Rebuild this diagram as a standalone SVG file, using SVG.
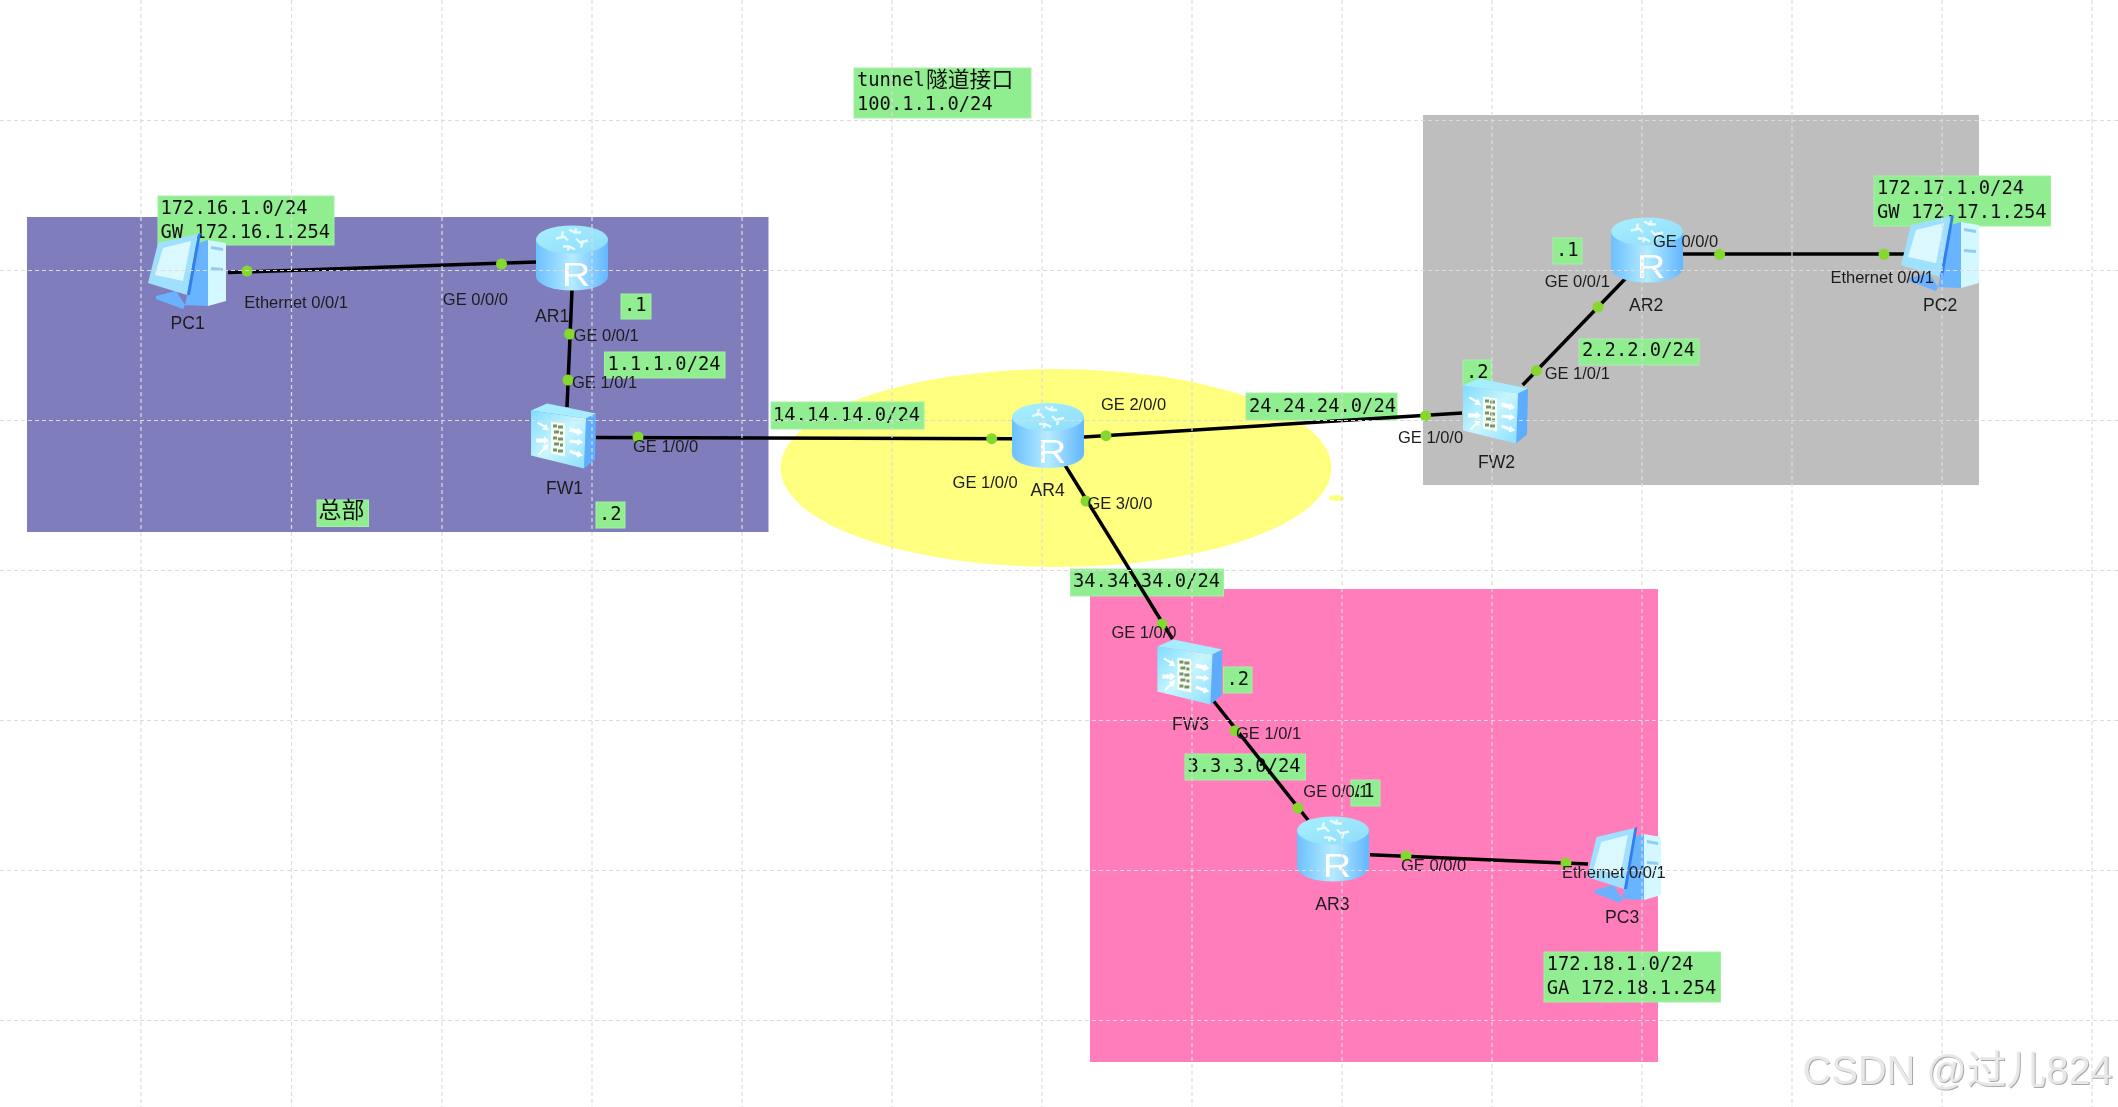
<svg xmlns="http://www.w3.org/2000/svg" xmlns:xlink="http://www.w3.org/1999/xlink" width="2118" height="1107" viewBox="0 0 2118 1107">
<style>
.lb{fill:#90ee90;stroke:#a6f0a6;stroke-width:1}
.m{font-family:"DejaVu Sans Mono","Liberation Mono",monospace;font-size:18.8px;fill:#111}
.cjk{font-family:"Noto Sans CJK SC",sans-serif;fill:#111}
.p{font-family:"Liberation Sans",Arial,sans-serif;font-size:16.5px;fill:#1c1c1c}
.n{font-family:"Liberation Sans",Arial,sans-serif;font-size:17.6px;fill:#1c1c1c}
.link{stroke:#000;stroke-width:3.5;fill:none;stroke-linecap:butt}
.dot{fill:#84d82f}
.grid{stroke:#dcdcdc;stroke-width:1.2;stroke-dasharray:4 3;fill:none}
.wm{font-family:"Liberation Sans","Noto Sans CJK SC",sans-serif;font-size:39.8px;fill:#e8e8e8;filter:url(#sh)}
.ra{fill:none;stroke:#e8fcff;stroke-width:2.4}
</style>
<defs>
<filter id="soft" x="-2%" y="-2%" width="104%" height="104%"><feGaussianBlur stdDeviation="0.45"/></filter>
<filter id="sh" x="-5%" y="-20%" width="110%" height="140%"><feDropShadow dx="1" dy="1" stdDeviation="0.6" flood-color="#a8a8a8"/></filter>
<linearGradient id="rb" x1="0" x2="1" y1="0" y2="0"><stop offset="0" stop-color="#6cc0ff"/><stop offset=".5" stop-color="#b4ecff"/><stop offset="1" stop-color="#63b6ff"/></linearGradient>
<linearGradient id="rt" x1="0" x2="1" y1="0" y2="1"><stop offset="0" stop-color="#a8f0ff"/><stop offset="1" stop-color="#8fdcfb"/></linearGradient>
<linearGradient id="ff" x1="0" x2="1" y1="0" y2="1"><stop offset="0" stop-color="#7fdcff"/><stop offset=".5" stop-color="#c8f6ff"/><stop offset="1" stop-color="#8adfff"/></linearGradient>
<g id="router">
<path d="M0 14V51A36 14 0 0 0 72 51V14Z" fill="url(#rb)"/>
<ellipse cx="36" cy="14" rx="36" ry="14" fill="url(#rt)"/>
<path class="ra" d="M20 13l8-2 4 4M27 6l-2 7M52 15l-8 2-4-4M45 22l2-7M33 4l6 3 6 0M40 3l-1 5M39 24l-6-3-6 0M32 25l1-5"/>
<text transform="translate(40 60) scale(1.2 1)" text-anchor="middle" font-family="Liberation Sans,Arial,sans-serif" font-size="33" fill="#fff">R</text>
</g>
<g id="firewall">
<path d="M1 7L17 0L66 10L56 15Z" fill="#a6eeff"/>
<path d="M56 15L66 10L65 56L54 65Z" fill="#5dadff"/>
<path d="M1 7L56 15L54 65L1 52Z" fill="url(#ff)"/>
<path d="M21 18L35 20L35 53L21 50Z" fill="#f4fff4"/>
<path d="M23 21h4v3h-4ZM28 22h5v3h-5ZM24 27h5v3h-5ZM30 28h3v3h-3ZM23 33h4v3h-4ZM28 34h5v3h-5ZM24 39h5v3h-5ZM30 40h3v3h-3ZM23 45h4v3h-4ZM28 46h5v3h-5Z" fill="#7f8f6a"/>
<path d="M8 18l7 4 1-2 3 7-7-1 2-2-7-4ZM6 35h8v-2l5 4-5 4v-2H6ZM8 50l6-6-2-1 7-3-2 7-2-1-6 6ZM40 24l8 2v-2l5 5-6 3v-2l-8-2ZM40 36l8 1v-2l5 4-6 3v-2l-8-1ZM40 46l8 3v-2l5 5-6 2v-2l-8-3Z" fill="#fff"/>
</g>
<g id="pc">
<path d="M37 72L50 10L60 7V73Z" fill="#69b4ff"/>
<path d="M60 7L78 10L78 68L60 73Z" fill="#d4f8ff"/>
<path d="M63 13l12 2v3l-12-2ZM63 34l12 1v3l-12-1Z" fill="#8fcdf5"/>
<path d="M8 63L28 58L37 72L35 76L8 66Z" fill="#6ab2ff"/>
<path d="M10 10L50 1L39 62L0 50Z" fill="#9fe0ff"/>
<path d="M50 1L53 0L42 62L39 62Z" fill="#2f7ff0"/>
<path d="M15 15L43 8L35 48L7 42Z" fill="#dcf8ff"/>
</g>
</defs>
<rect width="2118" height="1107" fill="#fff"/>
<g filter="url(#soft)">
<g id="areas">
<rect x="27" y="217" width="741.5" height="315" fill="#807dbd"/>
<rect x="1423" y="115" width="556" height="370" fill="#bebebe"/>
<rect x="1090" y="589" width="568" height="473" fill="#ff7dbb"/>
<ellipse cx="1056" cy="468" rx="275.5" ry="99" fill="#ffff7f"/>
<ellipse cx="1336.5" cy="498" rx="8" ry="3" fill="#ffff7f"/>
</g>
<g id="labels">
<rect class="lb" x="854" y="68" width="177" height="50"/>
<text class="m" x="857" y="86">tunnel</text><text class="cjk" x="926" y="87" font-size="21.8">隧道接口</text>
<text class="m" x="857" y="110">100.1.1.0/24</text>
<rect class="lb" x="158" y="196" width="176" height="49"/>
<text class="m" x="160.5" y="213.5">172.16.1.0/24</text><text class="m" x="160.5" y="237.5">GW 172.16.1.254</text>
<rect class="lb" x="621" y="294" width="30" height="25"/><text class="m" x="624" y="311">.1</text>
<rect class="lb" x="604.5" y="352" width="120.5" height="26"/><text class="m" x="607.5" y="369.5">1.1.1.0/24</text>
<rect class="lb" x="596" y="502" width="29" height="26"/><text class="m" x="599" y="519.5">.2</text>
<rect class="lb" x="317" y="500" width="51.5" height="26.5"/><text class="cjk" x="318.5" y="517.5" font-size="23">总部</text>
<rect class="lb" x="771" y="402" width="153" height="27"/><text class="m" x="773" y="420.5">14.14.14.0/24</text>
<rect class="lb" x="1246" y="393" width="151" height="27"/><text class="m" x="1249" y="411.5">24.24.24.0/24</text>
<rect class="lb" x="1070.5" y="569" width="153" height="27"/><text class="m" x="1073" y="587">34.34.34.0/24</text>
<rect class="lb" x="1579" y="339" width="120" height="26"/><text class="m" x="1582" y="356">2.2.2.0/24</text>
<rect class="lb" x="1553" y="238" width="29" height="26"/><text class="m" x="1556" y="255.5">.1</text>
<rect class="lb" x="1463" y="360" width="28.5" height="26"/><text class="m" x="1466" y="377.5">.2</text>
<rect class="lb" x="1874" y="176" width="176.5" height="50"/>
<text class="m" x="1877" y="193.5">172.17.1.0/24</text><text class="m" x="1877" y="217.5">GW 172.17.1.254</text>
<rect class="lb" x="1223.5" y="667" width="28.5" height="26"/><text class="m" x="1226.5" y="684.5">.2</text>
<rect class="lb" x="1185" y="754" width="120.5" height="26"/><text class="m" x="1187.5" y="771.5">3.3.3.0/24</text>
<rect class="lb" x="1351" y="780" width="29" height="26"/><text class="m" x="1352" y="797">.1</text>
<rect class="lb" x="1544" y="952" width="176.5" height="50"/>
<text class="m" x="1546.7" y="969.5">172.18.1.0/24</text><text class="m" x="1546.7" y="993.5">GA 172.18.1.254</text>
</g>
<g id="connectors">
<path class="link" d="M228 272.5L537 262"/>
<path class="link" d="M572 290L567 407"/>
<path class="link" d="M596 437.5L1013 438.7"/>
<path class="link" d="M1084 437L1462 413"/>
<path class="link" d="M1063.7 463L1172.5 639"/>
<path class="link" d="M1212 699L1308 820"/>
<path class="link" d="M1370 854.7L1588 864"/>
<path class="link" d="M1626 278L1522.7 385"/>
<path class="link" d="M1683 254L1905 254"/>
<g class="dots">
<circle class="dot" cx="247" cy="271" r="5.5"/><circle class="dot" cx="501.5" cy="264" r="5.5"/>
<circle class="dot" cx="569.6" cy="334" r="5.5"/><circle class="dot" cx="568" cy="380" r="5.5"/>
<circle class="dot" cx="638" cy="437" r="5.5"/><circle class="dot" cx="991.7" cy="438.7" r="5.5"/>
<circle class="dot" cx="1106" cy="435.7" r="5.5"/><circle class="dot" cx="1425.6" cy="416" r="5.5"/>
<circle class="dot" cx="1086" cy="501" r="5.5"/><circle class="dot" cx="1162" cy="624" r="5.5"/>
<circle class="dot" cx="1235" cy="730.7" r="5.5"/><circle class="dot" cx="1298" cy="808" r="5.5"/>
<circle class="dot" cx="1406" cy="856" r="5.5"/><circle class="dot" cx="1566" cy="863" r="5.5"/>
<circle class="dot" cx="1598" cy="307" r="5.5"/><circle class="dot" cx="1536.4" cy="370.7" r="5.5"/>
<circle class="dot" cx="1719.6" cy="254.3" r="5.5"/><circle class="dot" cx="1884" cy="254.3" r="5.5"/>
</g>
</g>
<g id="PC1"><use href="#pc" x="148" y="233"/><text class="n" x="170.6" y="328.5">PC1</text></g>
<g id="PC2"><use href="#pc" x="1901" y="215"/><text class="n" x="1923" y="311">PC2</text></g>
<g id="PC3"><use href="#pc" transform="translate(1587 827) scale(.95 1)"/><text class="n" x="1605" y="922.5">PC3</text></g>
<g id="AR1"><use href="#router" x="536" y="225.5"/><text class="n" x="535" y="321.5">AR1</text></g>
<g id="AR2"><use href="#router" x="1611" y="217.5"/><text class="n" x="1629" y="310.5">AR2</text></g>
<g id="AR3"><use href="#router" x="1297" y="816.5"/><text class="n" x="1315.3" y="909.5">AR3</text></g>
<g id="AR4"><use href="#router" x="1012" y="403"/><text class="n" x="1030.5" y="495.5">AR4</text></g>
<g id="FW1"><use href="#firewall" x="530" y="403.5"/><text class="n" x="546" y="493.5">FW1</text></g>
<g id="FW2"><use href="#firewall" x="1462" y="378.5"/><text class="n" x="1478" y="468">FW2</text></g>
<g id="FW3"><use href="#firewall" x="1156.4" y="639.5"/><text class="n" x="1172" y="729.5">FW3</text></g>
<g id="ports">
<text class="p" x="244.3" y="308">Ethernet 0/0/1</text>
<text class="p" x="442.8" y="305">GE 0/0/0</text>
<text class="p" x="573.6" y="341">GE 0/0/1</text>
<text class="p" x="572" y="387.5">GE 1/0/1</text>
<text class="p" x="633" y="452">GE 1/0/0</text>
<text class="p" x="952.6" y="488">GE 1/0/0</text>
<text class="p" x="1101" y="409.7">GE 2/0/0</text>
<text class="p" x="1087.4" y="509">GE 3/0/0</text>
<text class="p" x="1653" y="246.5">GE 0/0/0</text>
<text class="p" x="1544.7" y="287">GE 0/0/1</text>
<text class="p" x="1830.4" y="282.5">Ethernet 0/0/1</text>
<text class="p" x="1544.7" y="378.7">GE 1/0/1</text>
<text class="p" x="1398" y="443">GE 1/0/0</text>
<text class="p" x="1111.4" y="638">GE 1/0/0</text>
<text class="p" x="1236" y="738.7">GE 1/0/1</text>
<text class="p" x="1303.3" y="797">GE 0/0/1</text>
<text class="p" x="1401" y="870.5">GE 0/0/0</text>
<text class="p" x="1562" y="878">Ethernet 0/0/1</text>
</g>
<path id="grid" class="grid" d="M141 0V1107M291.5 0V1107M442 0V1107M592 0V1107M742 0V1107M892 0V1107M1042 0V1107M1192 0V1107M1342 0V1107M1492 0V1107M1642 0V1107M1792 0V1107M1942 0V1107M2092 0V1107M0 120.5H2118M0 270.5H2118M0 420.5H2118M0 570.5H2118M0 720.5H2118M0 870.5H2118M0 1020.5H2118"/>
</g>
<text class="wm" x="1802.5" y="1084">CSDN @过儿824</text>
</svg>
